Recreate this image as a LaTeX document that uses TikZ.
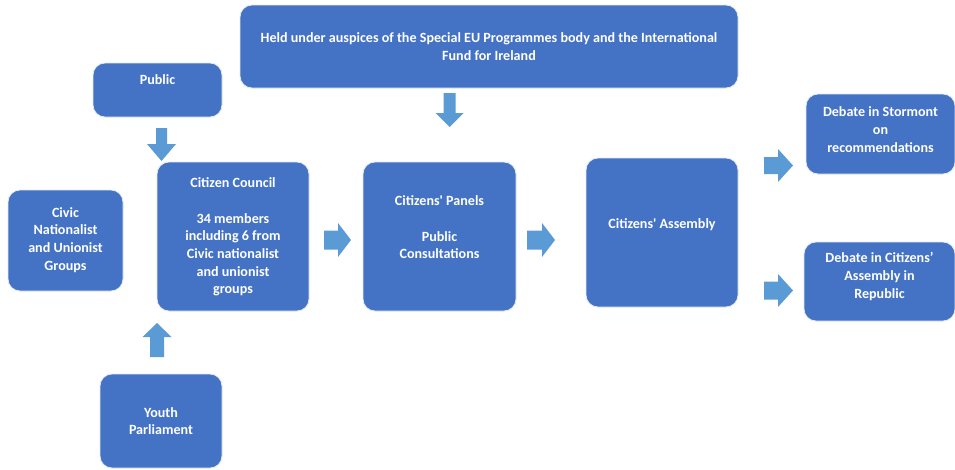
\documentclass[tikz,border=0pt]{standalone}
\usepackage{fontspec}
\setmainfont{Carlito}[Ligatures=TeXOff]
\begin{document}
\definecolor{boxblue}{HTML}{4472C4}
\definecolor{arrowblue}{HTML}{5B9BD5}
% block arrows: #1 = start x, #2 = mid y, #3 = shaft end x, #4 = tip x, #5 = shaft half width, #6 = head half width
\newcommand\rightblock[6]{%
  \fill[arrowblue] (#1,#2-#5) -- (#3,#2-#5) -- (#3,#2-#6) -- (#4,#2) -- (#3,#2+#6) -- (#3,#2+#5) -- (#1,#2+#5) -- cycle;}
% #1 = mid x, #2 = start y, #3 = shaft end y, #4 = tip y, #5 = shaft half width, #6 = head half width
\newcommand\vertblock[6]{%
  \fill[arrowblue] (#1-#5,#2) -- (#1-#5,#3) -- (#1-#6,#3) -- (#1,#4) -- (#1+#6,#3) -- (#1+#5,#3) -- (#1+#5,#2) -- cycle;}
\begin{tikzpicture}[x=1pt,y=-1pt,
  box/.style={fill=boxblue, draw=white!85!boxblue, line width=0.8pt, rounded corners=12pt},
  txt/.style={text=white, align=center, inner sep=0pt, font=\fontsize{14.1}{17.7}\selectfont\bfseries}]
\useasboundingbox (0,0) rectangle (955,469);
\fill[white] (0,0) rectangle (955,469);

% boxes
\draw[box] (93,63) rectangle (222,117);
\draw[box] (240,5) rectangle (738,88);
\draw[box] (8,190) rectangle (123,291);
\draw[box] (157,162) rectangle (309,311);
\draw[box] (363,162) rectangle (516,311);
\draw[box] (586,158) rectangle (738,307);
\draw[box] (806,94) rectangle (955,174);
\draw[box] (804,242) rectangle (955,321);
\draw[box] (100,374) rectangle (222,468);

% labels
\node[txt] (public) at (157.5,80) {Public};
\node[txt] (held) at (489,46.5) {Held under auspices of the Special EU Programmes body and the International\\Fund for Ireland};
\node[txt] (civic) at (65.5,240) {Civic\\Nationalist\\and Unionist\\Groups};
\node[txt] (council) at (233,237) {Citizen Council\\[17.7pt]34 members\\including 6 from\\Civic nationalist\\and unionist\\groups};
\node[txt] (panels) at (439.5,227.5) {Citizens' Panels\\[17.7pt]Public\\Consultations};
\node[txt] (assembly) at (662,225) {Citizens' Assembly};
\node[txt] (stormont) at (880.5,129.5) {Debate in Stormont\\on\\recommendations};
\node[txt] (republic) at (879.5,276.5) {Debate in Citizens’\\Assembly in\\Republic};
\node[txt] (youth) at (161,421) {Youth\\Parliament};

% arrows
\vertblock{161.5}{128}{144}{161}{5.5}{14.5}
\vertblock{449.5}{93}{113}{127}{6}{14}
\vertblock{157}{357}{337}{323}{7}{14.5}
\rightblock{324}{240}{338}{351}{9.5}{17}
\rightblock{527}{240}{542}{555}{9.5}{17}
\rightblock{764}{165.5}{778}{793}{8.5}{16.5}
\rightblock{764}{290.5}{778}{793}{9}{16.5}
\end{tikzpicture}
\end{document}
